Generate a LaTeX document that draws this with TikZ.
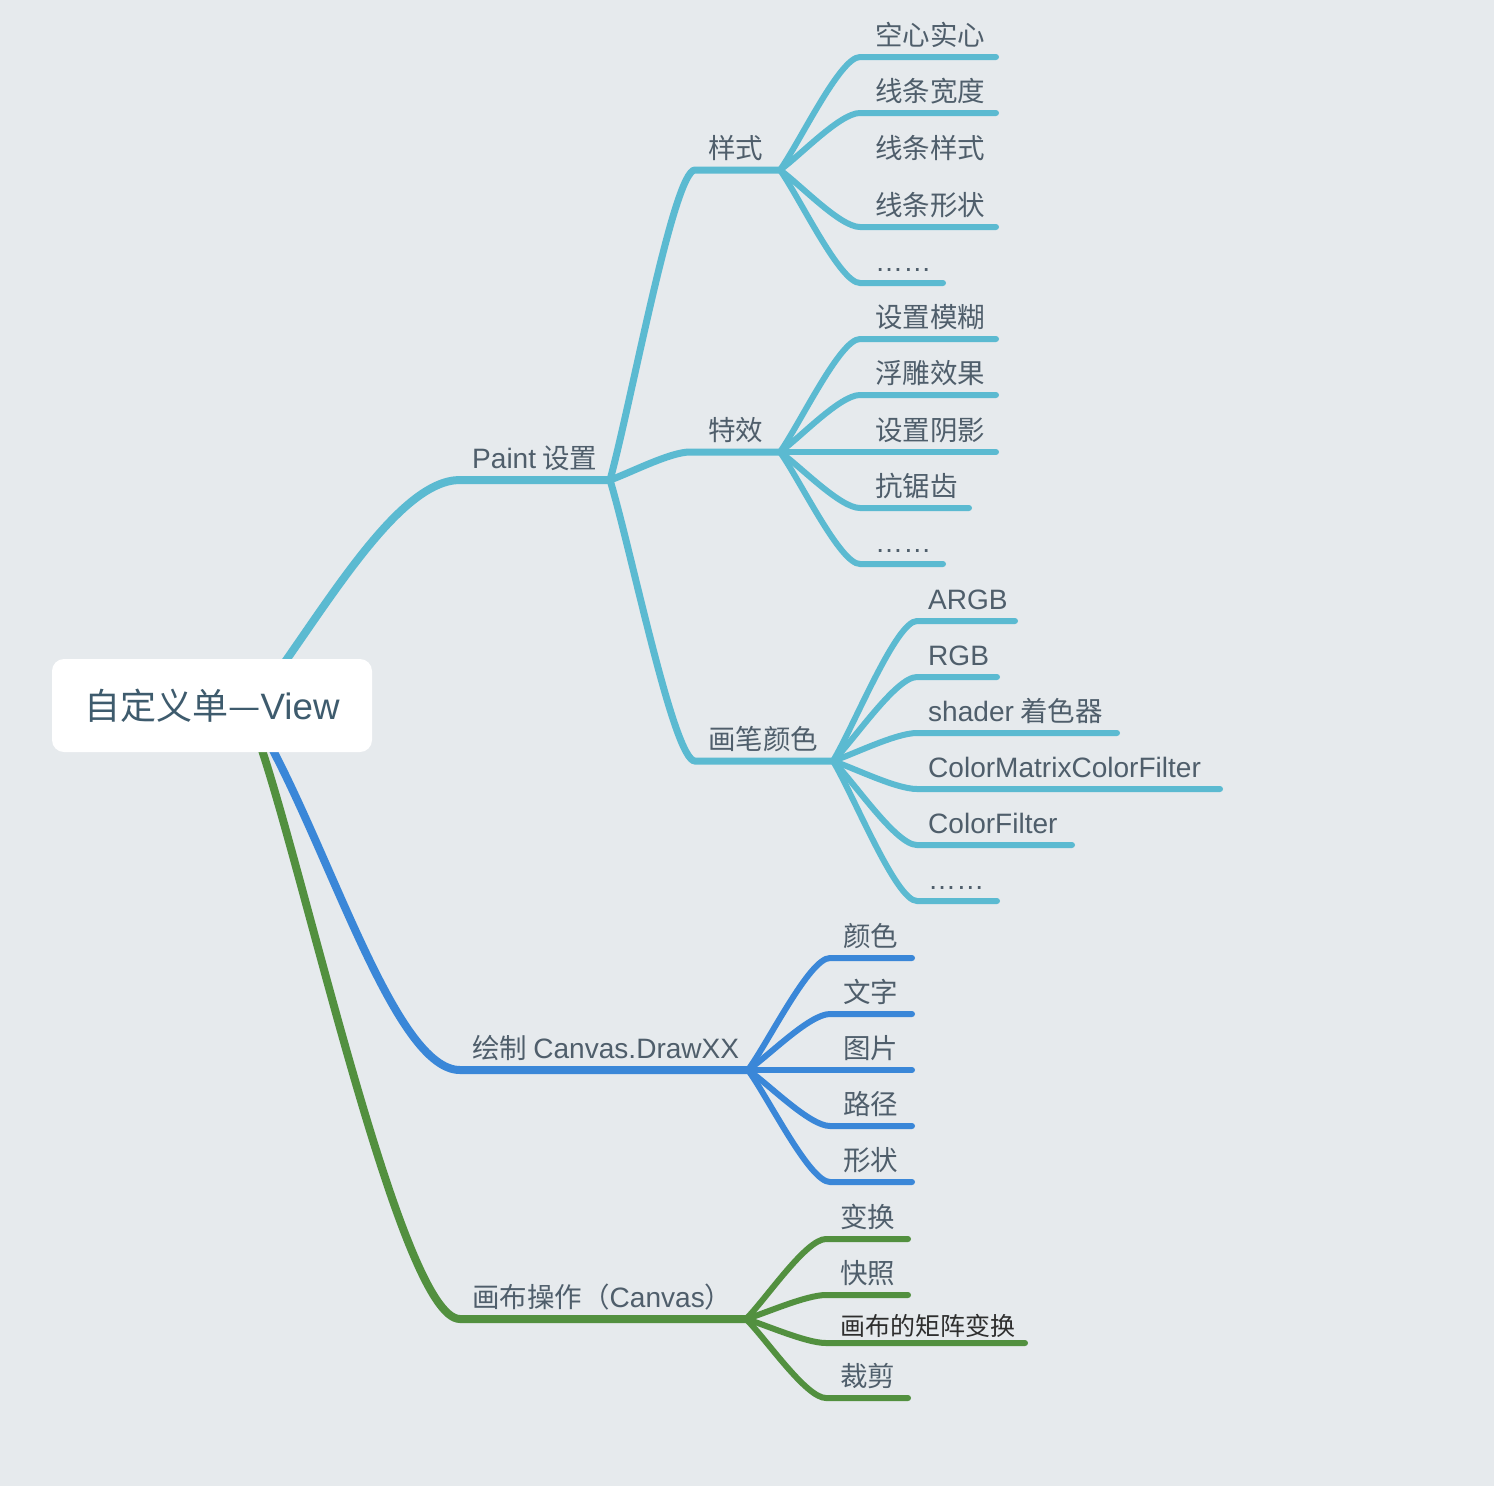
\documentclass[tikz,border=0pt]{standalone}
\usepackage{fontspec}
\setmainfont{Noto Sans CJK SC}
\newfontfamily\latn[Scale=1.02]{Liberation Sans}
\usetikzlibrary{calc}
\definecolor{bgc}{HTML}{E6EAED}
\definecolor{cyanb}{HTML}{5BBAD1}
\definecolor{blueb}{HTML}{3A87D8}
\definecolor{greenb}{HTML}{52903F}
\definecolor{txt}{HTML}{4F5E6B}
\definecolor{roottxt}{HTML}{3E5B6D}
\definecolor{darktxt}{HTML}{2E2E2E}
\def\tx{15}
\def\ty{-12}
% #1 junction, #2 name, #3 start x, #4 end x, #5 y, #6 colour, #7 text
\newcommand\leaf[7]{%
  \coordinate (#2s) at (#3,#5);
  \coordinate (#2e) at (#4,#5);
  \draw[edge3,#6] (#1) .. controls ($(#1)!0.25!(#2s)$) and ($(#2s)!0.25!(#1|-#2s)$) .. (#2s) -- (#2e);
  \node[lbl] (#2) at ($(#2s)+(\tx,\ty)$) {#7};
}
\begin{document}
\begin{tikzpicture}[x=1pt,y=-1pt,
  edge1/.style={line width=8pt, line cap=round},
  edge2/.style={line width=7pt, line cap=round},
  edge3/.style={line width=6pt, line cap=round},
  lbl/.style={anchor=base west, inner sep=0pt, text=txt, font=\fontsize{27.5}{33}\selectfont},
  rootbox/.style={fill=white, rounded corners=12pt, minimum width=320pt, minimum height=93pt, inner sep=0pt, text=roottxt, font=\fontsize{36}{43}\selectfont}
]
\fill[bgc] (0,0) rectangle (1494,1486);
\useasboundingbox (0,0) rectangle (1494,1486);

% level 1 coordinates
\coordinate (rp) at (270,683);
\coordinate (rb) at (262,730);
\coordinate (rg) at (255,730);
\coordinate (p0) at (460,480);
\coordinate (pj) at (610,480);
\coordinate (b0) at (460,1070);
\coordinate (bj) at (748,1070);
\coordinate (g0) at (460,1319);
\coordinate (gj) at (746,1319);

\draw[edge1,cyanb] (rp) .. controls (330,600) and (400,480) .. (p0) -- (pj);
\draw[edge1,blueb] (rb) .. controls (330,850) and (395,1070) .. (b0) -- (bj);
\draw[edge1,greenb] (rg) .. controls (300,850) and (400,1319) .. (g0) -- (gj);

% level 2
\coordinate (s0) at (695,170);
\coordinate (sj) at (780,170);
\coordinate (t0) at (690,452);
\coordinate (tj) at (780,452);
\coordinate (h0) at (695,761);
\coordinate (hj) at (833,761);
\draw[edge2,cyanb] (pj) .. controls ($(pj)!0.25!(s0)$) and ($(s0)!0.25!(pj|-s0)$) .. (s0) -- (sj);
\draw[edge2,cyanb] (pj) .. controls ($(pj)!0.25!(t0)$) and ($(t0)!0.25!(pj|-t0)$) .. (t0) -- (tj);
\draw[edge2,cyanb] (pj) .. controls ($(pj)!0.25!(h0)$) and ($(h0)!0.25!(pj|-h0)$) .. (h0) -- (hj);

% leaves of 样式
\def\tx{15}
\leaf{sj}{a1}{860}{996}{57}{cyanb}{空心实心}
\leaf{sj}{a2}{860}{996}{113}{cyanb}{线条宽度}
\node[lbl] (a3) at (875,158) {线条样式};
\leaf{sj}{a4}{860}{996}{227}{cyanb}{线条形状}
\leaf{sj}{a5}{860}{943}{283}{cyanb}{{\latn ……}}

% leaves of 特效
\leaf{tj}{b1}{860}{996}{339}{cyanb}{设置模糊}
\leaf{tj}{b2}{860}{996}{395}{cyanb}{浮雕效果}
\leaf{tj}{b3}{860}{996}{452}{cyanb}{设置阴影}
\leaf{tj}{b4}{860}{969}{508}{cyanb}{抗锯齿}
\leaf{tj}{b5}{860}{943}{564}{cyanb}{{\latn ……}}

% leaves of 画笔颜色
\def\tx{11}
\leaf{hj}{c1}{917}{1015}{621}{cyanb}{{\latn ARGB}}
\leaf{hj}{c2}{917}{997}{677}{cyanb}{{\latn RGB}}
\leaf{hj}{c3}{917}{1117}{733}{cyanb}{{\latn shader} 着色器}
\leaf{hj}{c4}{917}{1220}{789}{cyanb}{{\latn ColorMatrixColorFilter}}
\leaf{hj}{c5}{917}{1072}{845}{cyanb}{{\latn ColorFilter}}
\leaf{hj}{c6}{917}{997}{901}{cyanb}{{\latn ……}}

% leaves of 绘制
\def\tx{13}
\leaf{bj}{d1}{830}{912}{958}{blueb}{颜色}
\leaf{bj}{d2}{830}{912}{1014}{blueb}{文字}
\leaf{bj}{d3}{830}{912}{1070}{blueb}{图片}
\leaf{bj}{d4}{830}{912}{1126}{blueb}{路径}
\leaf{bj}{d5}{830}{912}{1182}{blueb}{形状}

% leaves of 画布操作
\def\tx{14}
\leaf{gj}{e1}{826}{908}{1239}{greenb}{变换}
\leaf{gj}{e2}{826}{908}{1295}{greenb}{快照}
\def\ty{-8}
\leaf{gj}{e3}{826}{1025}{1343}{greenb}{\fontsize{25}{30}\selectfont\textcolor{darktxt}{画布的矩阵变换}}
\def\ty{-12}
\leaf{gj}{e4}{826}{908}{1398}{greenb}{裁剪}

% labels
\node[lbl] (paint) at (472,468) {{\latn Paint} 设置};
\node[lbl] (draw) at (472,1058) {绘制 {\latn Canvas.DrawXX}};
\node[lbl] (canvas) at (472,1307) {画布操作（{\latn Canvas}）};
\node[lbl] (style) at (708,158) {样式};
\node[lbl] (effect) at (708,440) {特效};
\node[lbl] (pcolor) at (708,749) {画笔颜色};

% root
\node[rootbox] (root) at (212,705.5) {自定义单—{\latn View}};
\end{tikzpicture}
\end{document}
